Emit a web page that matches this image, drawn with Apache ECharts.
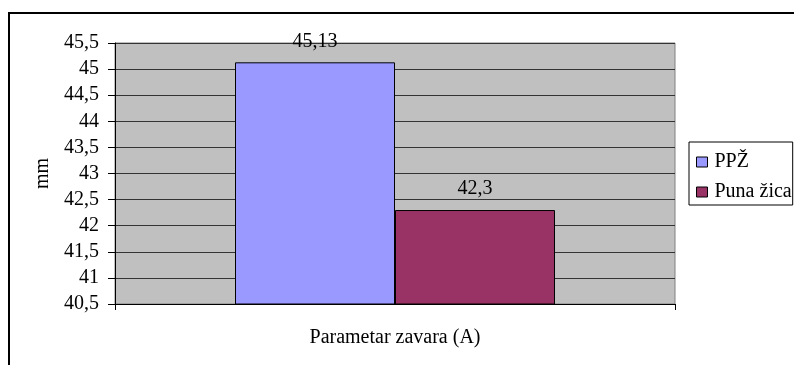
<!DOCTYPE html>
<html>
<head>
<meta charset="utf-8">
<script src="https://cdn.jsdelivr.net/npm/echarts@6/dist/echarts.min.js"></script>
<style>
  html, body { margin: 0; padding: 0; background: #fff; }
  #chart { width: 794px; height: 365px; }
</style>
</head>
<body>
<div id="chart"></div>
<script>
// Weld width comparison, flux-cored wire vs solid wire
const categories = ['Parametar zavara (A)'];
const seriesNames = ['PPŽ', 'Puna žica'];
const ppzValues = [45.13];
const punaZicaValues = [42.3];
const yMin = 40.5, yMax = 45.5, yStep = 0.5;

const serif = '"Liberation Serif", "Times New Roman", serif';
const fs = 20;
const comma = v => String(v).replace('.', ',');

const chart = echarts.init(document.getElementById('chart'), null, { renderer: 'canvas' });

const labelCfg = {
  show: true,
  position: 'top',
  distance: 11,
  color: '#000',
  fontFamily: serif,
  fontSize: fs,
  lineHeight: fs,
  formatter: p => comma(p.value)
};

chart.setOption({
  animation: false,
  textStyle: { fontFamily: serif },
  graphic: [{
    type: 'rect',
    shape: { x: 9, y: 13, width: 820, height: 400 },
    style: { fill: 'none', stroke: '#000', lineWidth: 2 },
    silent: true,
    z: 100
  }],
  grid: {
    left: 115, top: 43, width: 560, height: 261,
    show: true,
    backgroundColor: '#C0C0C0',
    borderColor: '#808080',
    borderWidth: 1
  },
  legend: {
    orient: 'vertical',
    left: 689, top: 142,
    data: seriesNames,
    backgroundColor: '#fff',
    borderColor: '#000',
    borderWidth: 1,
    borderRadius: 0,
    padding: [10, 1, 3, 7],
    itemGap: 10,
    itemWidth: 11,
    itemHeight: 10,
    icon: 'rect',
    itemStyle: { borderColor: '#000', borderWidth: 1 },
    textStyle: { fontFamily: serif, fontSize: fs, lineHeight: fs, color: '#000', padding: [0, 0, 0, 2] }
  },
  xAxis: {
    type: 'category',
    data: categories,
    boundaryGap: true,
    name: categories[0],
    nameLocation: 'middle',
    nameGap: 24,
    nameTextStyle: { fontFamily: serif, fontSize: fs, color: '#000' },
    axisLine: { lineStyle: { color: '#000', width: 1 } },
    axisTick: { show: true, length: 6, lineStyle: { color: '#000' } },
    axisLabel: { show: false }
  },
  yAxis: {
    type: 'value',
    min: yMin, max: yMax, interval: yStep,
    name: 'mm',
    nameLocation: 'middle',
    nameGap: 62,
    nameRotate: 90,
    nameTextStyle: { fontFamily: serif, fontSize: fs, color: '#000' },
    axisLine: { show: true, lineStyle: { color: '#000', width: 1 } },
    axisTick: { show: true, length: 7, lineStyle: { color: '#000' } },
    axisLabel: {
      margin: 16,
      color: '#000',
      fontFamily: serif,
      fontSize: fs,
      formatter: v => comma(v)
    },
    splitLine: { show: true, lineStyle: { color: '#333', width: 1 } }
  },
  series: [
    {
      name: seriesNames[0],
      type: 'bar',
      data: ppzValues,
      barWidth: 160,
      barGap: '0%',
      itemStyle: { color: '#9999FF', borderColor: '#000', borderWidth: 1 },
      label: labelCfg
    },
    {
      name: seriesNames[1],
      type: 'bar',
      data: punaZicaValues,
      barWidth: 160,
      barGap: '0%',
      itemStyle: { color: '#993366', borderColor: '#000', borderWidth: 1 },
      label: labelCfg
    }
  ]
});
</script>
</body>
</html>
